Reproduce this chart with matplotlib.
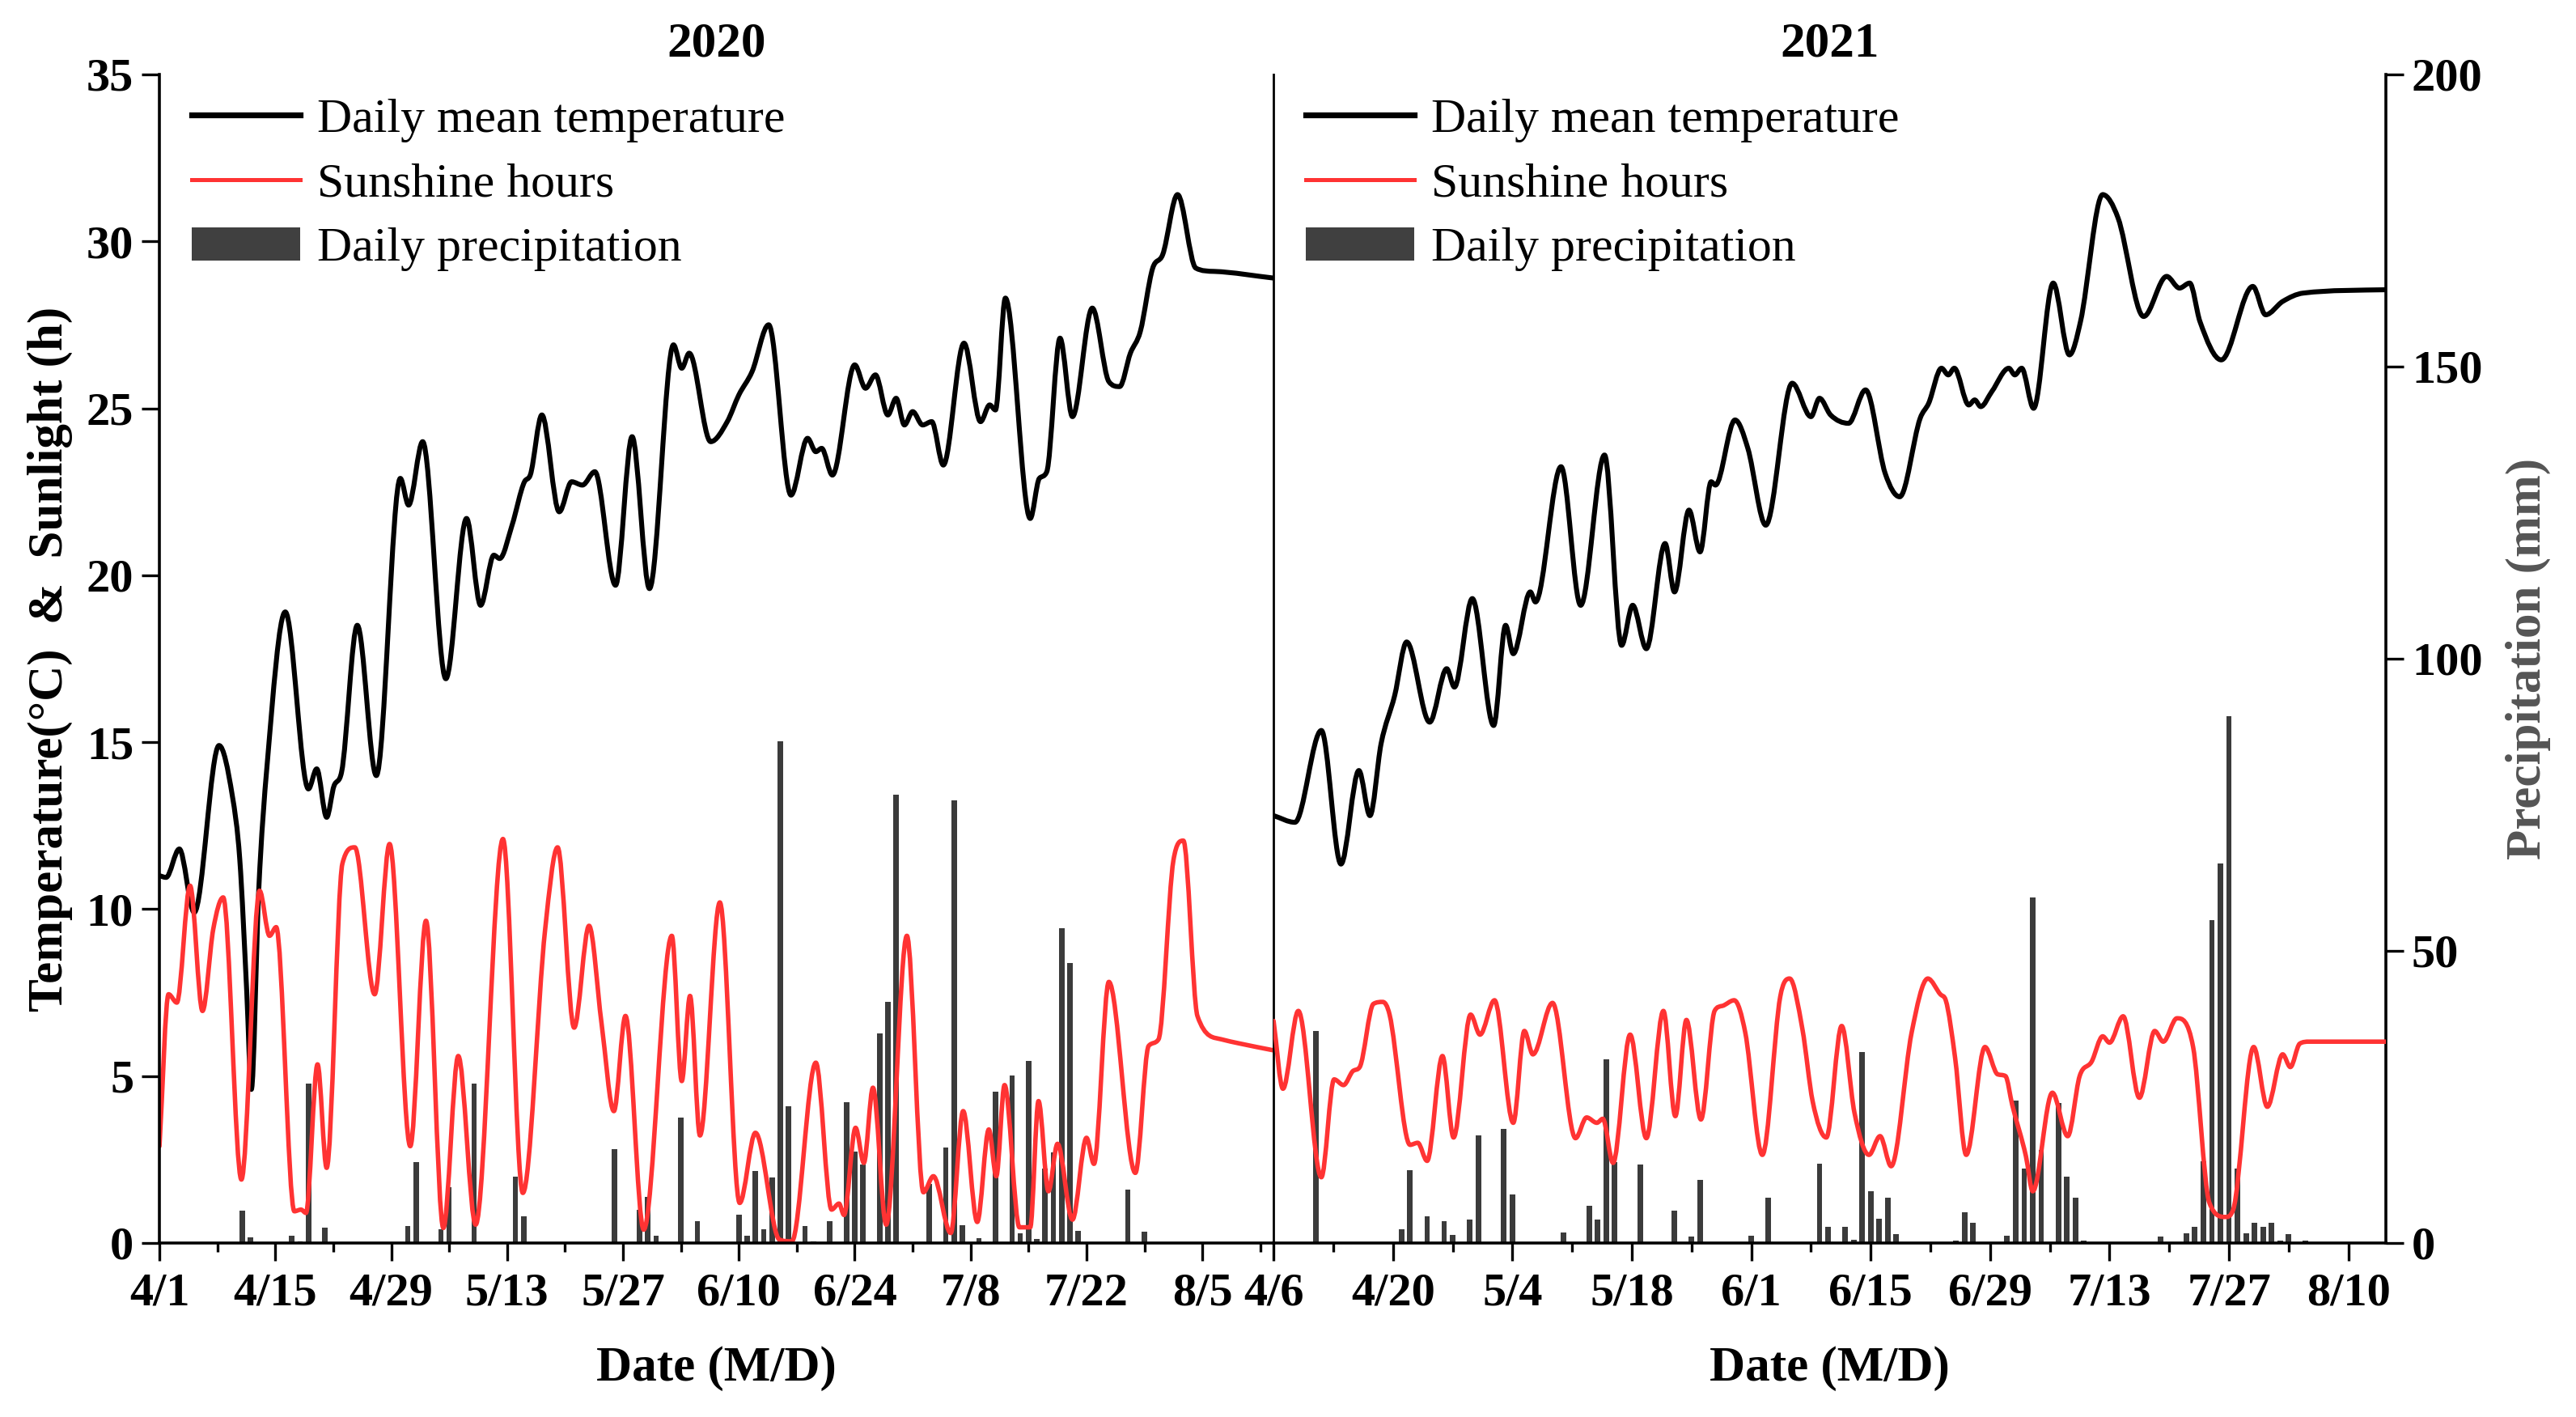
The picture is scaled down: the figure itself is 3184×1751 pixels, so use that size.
import numpy as np
import matplotlib
matplotlib.use('Agg')
import matplotlib.pyplot as plt
from matplotlib.path import Path
from matplotlib.patches import PathPatch, Patch
from matplotlib.lines import Line2D

plt.rcParams['font.family'] = ['Liberation Serif', 'DejaVu Serif']
plt.rcParams['font.weight'] = 'bold'
plt.rcParams['axes.labelweight'] = 'bold'

# values, x = days after the first date of each panel
# 2020, first day 4/1
t20_day = [0, 0.8, 2.4, 4.2, 7.2, 8.8, 9.7, 10.55, 11.1, 12.0,
           13.0, 15.2, 18.0, 19.0, 20.2, 21.1, 22.0, 23.9, 26.2, 29.1,
           30.1, 31.8, 34.6, 37.1, 38.8, 40.4, 41.1, 42.6, 44.1, 44.8,
           46.2, 48.3, 49.8, 51.1, 52.6, 55.1, 57.1, 59.2, 62.1, 63.1,
           64.0, 66.6, 68.6, 70.0, 71.6, 73.6, 76.3, 78.3, 79.3, 80.0,
           81.3, 84.0, 85.3, 86.5, 88.0, 89.0, 90.0, 91.0, 92.2, 93.3,
           94.7, 97.2, 99.2, 100.3, 101.0, 102.2, 105.2, 106.3, 107.2, 108.8,
           110.3, 112.7, 114.7, 116.0, 117.3, 118.5, 120.0, 121.2, 123.0, 125.2,
           127.4, 134.6]
t20_val = [11.0, 10.95, 11.8, 9.9, 14.9, 13.4, 11.5, 7.5, 4.6, 10.6,
           14.3, 18.9, 13.6, 14.2, 12.75, 13.7, 14.1, 18.5, 14.0, 22.9,
           22.1, 24.0, 16.9, 21.7, 19.1, 20.6, 20.5, 21.5, 22.8, 23.0,
           24.8, 21.9, 22.8, 22.7, 23.1, 19.7, 24.15, 19.6, 26.9, 26.2,
           26.65, 24.0, 24.6, 25.4, 26.1, 27.5, 22.4, 24.1, 23.7, 23.8,
           23.0, 26.3, 25.6, 26.0, 24.8, 25.3, 24.5, 24.9, 24.5, 24.6,
           23.3, 26.95, 24.6, 25.1, 24.95, 28.3, 21.7, 22.9, 23.1, 27.1,
           24.75, 28.0, 25.8, 25.65, 26.65, 27.3, 29.2, 29.6, 31.4, 29.2,
           29.1, 28.9]

s20_day = [0, 1.1, 2.1, 3.7, 5.2, 6.5, 7.7, 9.9, 12.1, 13.3,
           14.1, 16.3, 17.1, 17.7, 19.1, 20.2, 22.1, 23.6, 26.0, 27.8,
           30.3, 32.2, 34.3, 36.1, 38.2, 41.5, 43.9, 46.6, 48.1, 50.1,
           51.9, 53.4, 54.9, 56.3, 58.5, 61.9, 63.1, 64.1, 65.3, 67.7,
           70.1, 72.0, 74.9, 76.4, 79.3, 81.2, 82.1, 82.7, 84.1, 85.1,
           86.2, 87.8, 90.3, 92.3, 93.5, 95.6, 97.1, 98.8, 100.2, 101.1,
           102.1, 103.9, 105.2, 106.2, 107.4, 108.5, 110.3, 112.0, 112.9, 114.7,
           117.9, 119.5, 120.7, 122.5, 123.7, 125.4, 128.3, 130.4, 134.6]
s20_val = [2.9, 7.45, 7.2, 10.7, 6.95, 9.4, 10.35, 1.9, 10.55, 9.2,
           9.46, 0.95, 1.0, 0.9, 5.35, 2.25, 11.36, 11.85, 7.45, 11.95,
           2.9, 9.65, 0.45, 5.6, 0.55, 12.1, 1.5, 9.4, 11.85, 6.45,
           9.5, 6.6, 3.95, 6.8, 0.4, 9.2, 4.85, 7.4, 3.22, 10.2,
           1.2, 3.3, 0.1, 0.05, 5.4, 1.0, 1.18, 0.84, 3.45, 2.4,
           4.65, 0.55, 9.2, 1.52, 2.0, 0.3, 3.95, 0.63, 3.4, 2.0,
           4.73, 0.47, 0.47, 4.25, 1.55, 2.97, 0.7, 3.15, 2.37, 7.82,
           2.1, 5.9, 6.1, 11.46, 12.05, 6.8, 6.1, 5.98, 5.77]

p20_day = [10, 11, 16, 17, 18, 20, 30, 31, 34, 35, 38, 43, 44, 55, 58, 59, 60,
           63, 65, 70, 71, 72, 73, 74, 75, 76, 78, 79, 81, 83, 84, 85, 87, 88,
           89, 93, 95, 96, 97, 99, 101, 103, 104, 105, 106, 107, 108, 109, 110,
           111, 117, 119]
p20_mm = [5.5, 0.9, 1.2, 0.3, 27.3, 2.6, 2.9, 13.9, 2.3, 9.6, 27.3, 11.4, 4.6,
          16.0, 5.7, 7.9, 1.2, 21.4, 3.7, 4.8, 1.3, 12.3, 2.4, 11.2, 85.9, 23.4,
          2.9, 0.3, 3.7, 24.1, 15.7, 13.4, 35.9, 41.3, 76.7, 10.1, 16.4, 75.7,
          3.1, 0.8, 25.9, 28.6, 1.6, 31.2, 0.7, 12.8, 15.5, 53.9, 47.9, 2.1,
          9.1, 2.0]

# 2021, first day 4/6
t21_day = [0, 2.5, 5.6, 7.9, 10.0, 11.3, 12.6, 14.2, 15.6, 18.3,
           20.3, 21.2, 23.3, 25.8, 27.2, 28.1, 30.1, 30.7, 33.7, 36.0,
           38.8, 40.8, 42.1, 43.7, 45.9, 47.0, 48.7, 50.0, 51.3, 51.8,
           54.1, 55.6, 57.7, 60.8, 63.0, 64.0, 65.3, 67.4, 69.4, 71.7,
           73.4, 75.8, 76.8, 78.3, 79.1, 79.8, 81.5, 82.2, 82.9, 84.2,
           86.2, 86.9, 87.7, 89.1, 91.4, 93.3, 94.6, 97.2, 99.0, 102.0,
           104.7, 106.2, 107.4, 108.6, 111.1, 114.8, 116.3, 118.3, 120.7, 130.4]
t21_val = [12.8, 12.6, 15.35, 11.35, 14.15, 12.8, 14.95, 16.4, 18.0, 15.6,
           17.2, 16.65, 19.3, 15.5, 18.5, 17.65, 19.5, 19.2, 23.25, 19.1,
           23.6, 17.9, 19.1, 17.8, 20.95, 19.5, 21.95, 20.7, 22.8, 22.7,
           24.65, 23.8, 21.5, 25.75, 24.75, 25.3, 24.8, 24.55, 25.55, 23.05,
           22.35, 24.7, 25.15, 26.2, 26.0, 26.2, 25.1, 25.25, 25.05, 25.5,
           26.2, 26.0, 26.2, 25.0, 28.75, 26.6, 27.6, 31.4, 30.7, 27.75,
           28.95, 28.6, 28.75, 27.6, 26.45, 28.65, 27.8, 28.2, 28.45, 28.55]

s21_day = [0, 1.1, 2.9, 5.6, 7.1, 8.2, 9.35, 10.1, 11.7, 12.8,
           13.6, 16.0, 16.9, 18.0, 19.8, 21.1, 23.1, 24.2, 25.9, 28.1,
           29.4, 30.4, 32.7, 35.4, 36.7, 37.9, 38.6, 39.8, 41.8, 43.7,
           45.7, 47.1, 48.4, 50.1, 51.7, 52.6, 54.0, 55.3, 57.3, 59.4,
           60.5, 62.0, 63.2, 64.8, 66.6, 68.1, 69.8, 71.1, 72.4, 74.8,
           76.7, 78.2, 78.8, 79.9, 81.2, 83.4, 84.9, 85.8, 86.6, 88.2,
           89.0, 91.3, 93.1, 94.5, 95.9, 97.2, 98.0, 99.6, 101.5, 103.3,
           104.3, 105.9, 107.8, 109.7, 111.6, 112.5, 114.9, 116.5, 118.3, 119.2,
           120.3, 121.4, 130.4]
s21_val = [6.65, 4.62, 6.95, 1.97, 4.9, 4.73, 5.16, 5.27, 7.16, 7.22,
           6.84, 2.94, 3.0, 2.46, 5.6, 3.16, 6.84, 6.24, 7.27, 3.6,
           6.35, 5.65, 7.19, 3.14, 3.76, 3.6, 3.72, 2.4, 6.24, 3.14,
           6.95, 3.8, 6.68, 3.7, 6.95, 7.1, 7.27, 6.3, 2.64, 7.38,
           7.92, 6.4, 4.24, 3.16, 6.5, 3.9, 2.64, 3.2, 2.3, 6.3,
           7.92, 7.44, 7.27, 5.54, 2.64, 5.87, 5.05, 5.0, 4.13, 2.6,
           1.55, 4.5, 3.2, 5.0, 5.43, 6.19, 6.0, 6.79, 4.35, 6.35,
           6.03, 6.73, 5.87, 1.21, 0.78, 1.0, 5.87, 4.08, 5.65, 5.27,
           5.97, 6.03, 6.03]

p21_day = [5, 15, 16, 18, 20, 21, 23, 24, 27, 28, 34, 37, 38, 39, 40, 43, 47,
           49, 50, 56, 58, 63, 64, 65, 67, 68, 69, 70, 71, 72, 73, 80, 81, 82,
           86, 87, 88, 89, 90, 92, 93, 94, 95, 102, 104, 107, 108, 109, 110,
           111, 112, 113, 114, 115, 116, 117, 118, 119, 121]
p21_mm = [36.3, 2.4, 12.5, 4.6, 3.8, 1.4, 4.0, 18.4, 19.5, 8.3, 1.8, 6.4, 4.0,
          31.4, 13.9, 13.4, 5.6, 1.1, 10.8, 1.2, 7.7, 0.2, 13.6, 2.8, 2.7, 0.6,
          32.7, 8.9, 4.2, 7.7, 1.5, 0.4, 5.2, 3.5, 1.2, 24.4, 12.7, 59.2, 15.9,
          23.9, 11.4, 7.7, 0.4, 0.2, 1.1, 1.7, 2.7, 14.0, 55.2, 64.9, 90.1,
          12.7, 1.7, 3.5, 2.8, 3.4, 0.4, 1.5, 0.4]

ticks20 = ['4/1', '4/15', '4/29', '5/13', '5/27', '6/10', '6/24', '7/8', '7/22', '8/5']
ticks21 = ['4/6', '4/20', '5/4', '5/18', '6/1', '6/15', '6/29', '7/13', '7/27', '8/10']
legend_labels = ['Daily mean temperature', 'Sunshine hours', 'Daily precipitation']

RED = '#ff3333'
BAR = '#3b3b3b'


def smooth(x, y):
    # monotone cubic through the read points, drawn as bezier segments
    x = np.asarray(x, float)
    y = np.asarray(y, float)
    n = len(x)
    d = np.diff(y) / np.diff(x)
    m = np.zeros(n)
    m[0] = d[0]
    m[-1] = d[-1]
    for i in range(1, n - 1):
        if d[i - 1] * d[i] > 0:
            m[i] = (d[i - 1] + d[i]) / 2
    for k in range(n - 1):
        if d[k] == 0:
            m[k] = m[k + 1] = 0
            continue
        a = m[k] / d[k]
        b = m[k + 1] / d[k]
        s = a * a + b * b
        if s > 9:
            t = 3 / np.sqrt(s)
            m[k] = t * a * d[k]
            m[k + 1] = t * b * d[k]
    verts = [(x[0], y[0])]
    codes = [Path.MOVETO]
    for i in range(n - 1):
        h = x[i + 1] - x[i]
        verts += [(x[i] + h / 3, y[i] + m[i] * h / 3),
                  (x[i + 1] - h / 3, y[i + 1] - m[i + 1] * h / 3),
                  (x[i + 1], y[i + 1])]
        codes += [Path.CURVE4] * 3
    return Path(verts, codes)


fig = plt.figure(figsize=(15.92, 8.755), dpi=200)
ax1 = fig.add_axes([0.0619, 0.1228, 0.4325, 0.8247])
ax2 = fig.add_axes([0.4944, 0.1228, 0.4318, 0.8247])

panels = [(ax1, '2020', t20_day, t20_val, s20_day, s20_val, p20_day, p20_mm, ticks20, 134.6),
          (ax2, '2021', t21_day, t21_val, s21_day, s21_val, p21_day, p21_mm, ticks21, 130.4)]

handles = [Line2D([], [], color='black', lw=2.6),
           Line2D([], [], color=RED, lw=1.8),
           Patch(facecolor='#404040', edgecolor='none')]

twins = []
for ax, year, td, tv, sd, sv, pdays, pmm, labels, xmax in panels:
    axp = ax.twinx()
    axp.bar(pdays, pmm, width=0.65, color=BAR, linewidth=0)
    axp.set_ylim(0, 200)
    axp.patch.set_visible(False)
    ax.set_zorder(axp.get_zorder() + 1)
    ax.patch.set_visible(False)
    twins.append(axp)

    ax.add_patch(PathPatch(smooth(td, tv), fill=False, edgecolor='black', lw=2.2,
                           joinstyle='round', capstyle='round'))
    ax.add_patch(PathPatch(smooth(sd, sv), fill=False, edgecolor=RED, lw=2.0,
                           joinstyle='round', capstyle='round'))
    ax.set_xlim(0, xmax)
    ax.set_ylim(0, 35)
    ax.set_xticks(np.arange(0, 127, 14))
    ax.set_xticklabels(labels)
    ax.set_xticks(np.arange(7, xmax, 14), minor=True)
    ax.tick_params(axis='x', which='major', direction='out', length=8, width=1.2,
                   labelsize=21, pad=5)
    ax.tick_params(axis='x', which='minor', direction='out', length=4, width=1.2)
    ax.set_xlabel('Date (M/D)', fontsize=22, fontweight='bold', labelpad=14)
    ax.set_title(year, fontsize=22, fontweight='bold', pad=8)
    ax.spines['top'].set_visible(False)
    ax.spines['bottom'].set_linewidth(1.3)
    for sp in axp.spines.values():
        sp.set_visible(False)
    ax.legend(handles, legend_labels, loc='upper left', bbox_to_anchor=(0.029, 0.98),
              frameon=False, borderaxespad=0, borderpad=0, handlelength=2.25,
              handletextpad=0.35, labelspacing=0.42,
              prop={'size': 21.5, 'weight': 'normal'})

ax1.set_yticks(np.arange(0, 36, 5))
ax1.tick_params(axis='y', direction='out', length=8, width=1.2, labelsize=21)
ax1.spines['left'].set_linewidth(1.3)
ax1.spines['right'].set_linewidth(1.0)
ax1.set_ylabel('Temperature(°C)  &  Sunlight (h)', fontsize=22, fontweight='bold',
               labelpad=6)
twins[0].tick_params(right=False, labelright=False)

ax2.spines['left'].set_visible(False)
ax2.spines['right'].set_visible(False)
ax2.tick_params(axis='y', left=False, labelleft=False)
axr = twins[1]
axr.spines['right'].set_visible(True)
axr.spines['right'].set_linewidth(1.3)
axr.set_yticks(np.arange(0, 201, 50))
axr.tick_params(axis='y', direction='out', length=8, width=1.2, labelsize=21)
axr.set_ylabel('Precipitation (mm)', fontsize=22, fontweight='bold', color='#555555',
               labelpad=10)

fig.savefig('out.png', dpi=200)
